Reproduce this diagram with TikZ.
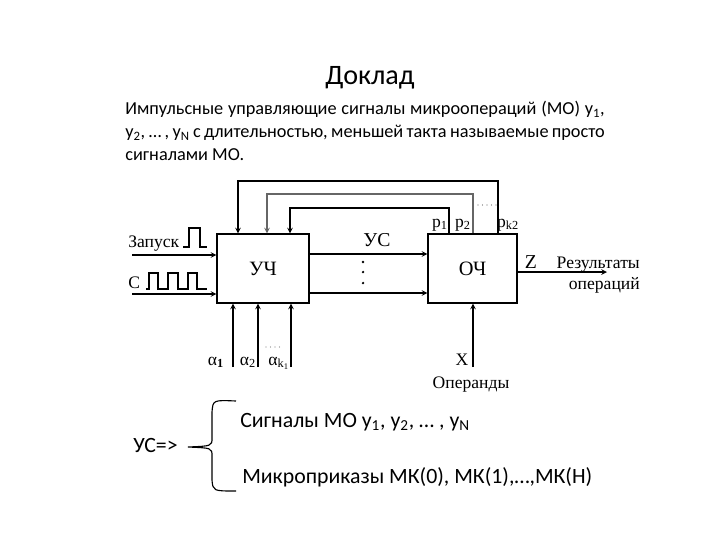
\documentclass[tikz,border=0pt]{standalone}
\usepackage{fontspec}
\setmainfont{Carlito}
\newfontfamily\tnr{Liberation Serif}
\usepackage{tikz}
\usetikzlibrary{calc}

\begin{document}
\begin{tikzpicture}[x=0.025cm, y=-0.025cm,
  block/.style={rectangle, draw, line width=0.8pt, inner sep=0pt,
                font=\tnr\fontsize{14.5}{17}\selectfont},
  arrow/.style={->, >=stealth, line width=0.8pt},
  wire/.style={line width=0.8pt},
  lbl/.style={inner sep=0pt, font=\tnr\fontsize{12.5}{15}\selectfont},
  txt/.style={inner sep=0pt, font=\fontsize{15.5}{18}\selectfont}
]
\useasboundingbox (0,0) rectangle (720,540);

%% Title and intro
\node[font=\fontsize{20}{24}\selectfont] (title) at (370,78) {Доклад};
\node[anchor=north west, inner sep=0pt, font=\fontsize{13}{16.3}\selectfont] (intro) at (125,101)
  {\parbox[t]{341pt}{Импульсные управляющие сигналы микроопераций (МО) y\textsubscript{1},\linebreak
   y\textsubscript{2}, … , y\textsubscript{N} с длительностью, меньшей такта называемые просто\linebreak
   сигналами МО.}};

%% Blocks
\node[block, minimum width=2.3cm, minimum height=1.725cm]   at (263,268.5) (uch) {УЧ};
\node[block, minimum width=2.225cm, minimum height=1.725cm] at (472.5,268.5) (och) {ОЧ};

%% Inputs of УЧ
\node[lbl, anchor=base west] at (128,247) (zap) {Запуск};
\draw[wire] (183,247) -- (189,247) -- (189,228) -- (200,228) -- (200,247) -- (207,247);
\coordinate (zin) at (132,255);
\draw[arrow] (zin) -- (zin -| uch.west);

\node[lbl, anchor=base west] at (128,288) (clk) {С};
\draw[wire] (146,289) -- (149,289) -- (149,273) -- (158,273) -- (158,289)
  -- (168,289) -- (168,273) -- (178,273) -- (178,289)
  -- (188,289) -- (188,273) -- (197,273) -- (197,289) -- (207,289);
\coordinate (cin) at (132,294);
\draw[arrow] (cin) -- (cin -| uch.west);

%% Control signals УЧ -> ОЧ
\coordinate (us1) at (360,254);
\coordinate (us2) at (360,293);
\draw[arrow] (us1 -| uch.east) -- (us1 -| och.west);
\draw[arrow] (us2 -| uch.east) -- (us2 -| och.west);
\node[lbl, font=\tnr\fontsize{14}{16}\selectfont] at (377,240) (uslbl) {УС};
\foreach \y in {262,272,283} \fill (363,\y) circle (0.9pt);

%% Feedback p1, p2, pk2
\coordinate (f1) at (498,181); \coordinate (g1) at (238,181);
\coordinate (f2) at (473,194); \coordinate (g2) at (267,194);
\coordinate (f3) at (449,208); \coordinate (g3) at (290,208);
\draw[arrow] (f1 |- och.north) -- (f1) -- (g1) -- (g1 |- uch.north);
\draw[arrow, black!60] (f2 |- och.north) -- (f2) -- (g2) -- (g2 |- uch.north);
\draw[arrow] (f3 |- och.north) -- (f3) -- (g3) -- (g3 |- uch.north);
\node[lbl, anchor=base] at (440,227) (p1) {p\textsubscript{1}};
\node[lbl, anchor=base] at (463,227) (p2) {p\textsubscript{2}};
\node[lbl, anchor=base] at (508,227) (pk) {p\textsubscript{k2}};
\foreach \x in {478,482.5,...,496} \fill[black!60] (\x,205) circle (0.5pt);

%% Inputs alpha
\coordinate (a1) at (233,367);
\coordinate (a2) at (258,367);
\coordinate (ak) at (291,367);
\draw[arrow] (a1) -- (a1 |- uch.south);
\draw[arrow] (a2) -- (a2 |- uch.south);
\draw[arrow] (ak) -- (ak |- uch.south);
\node[lbl, anchor=base] at (216,365) (al1) {α\textsubscript{\textbf{1}}};
\node[lbl, anchor=base] at (248,365) (al2) {α\textsubscript{2}};
\node[lbl, anchor=base] at (279,365) (alk) {α\textsubscript{k\textsubscript{1}}};
\foreach \x in {266,270.5,...,281} \fill[black!50] (\x,347) circle (0.5pt);

%% Operands and results
\coordinate (xin) at (473,367);
\draw[arrow] (xin) -- (xin |- och.south);
\node[lbl, anchor=base] at (462,365) (xlbl) {X};
\node[lbl, anchor=base] at (471,388) (oper) {Операнды};
\coordinate (zout) at (607,272);
\draw[arrow] (zout -| och.east) -- (zout);
\node[lbl, font=\tnr\fontsize{14}{16}\selectfont] at (531,262) (zlbl) {Z};
\node[lbl, align=right, anchor=north east] at (640,257) (res) {Результаты\\операций};

%% УС => brace
\node[txt, anchor=base west] at (133,452) (us) {УС=>};
\draw[wire] (236,401) .. controls (213,400) .. (212,412) -- (212,438)
  .. controls (212,446) .. (188,447) .. controls (212,448) .. (212,456)
  -- (212,480) .. controls (213,491) .. (236,491);
\node[txt, anchor=base west] at (240,427) (sig) {Сигналы МО y\textsubscript{1}, y\textsubscript{2}, … , y\textsubscript{N}};
\node[txt, anchor=base west] at (242,483) (mk) {Микроприказы МК(0), МК(1),…,МК(Н)};
\end{tikzpicture}
\end{document}
